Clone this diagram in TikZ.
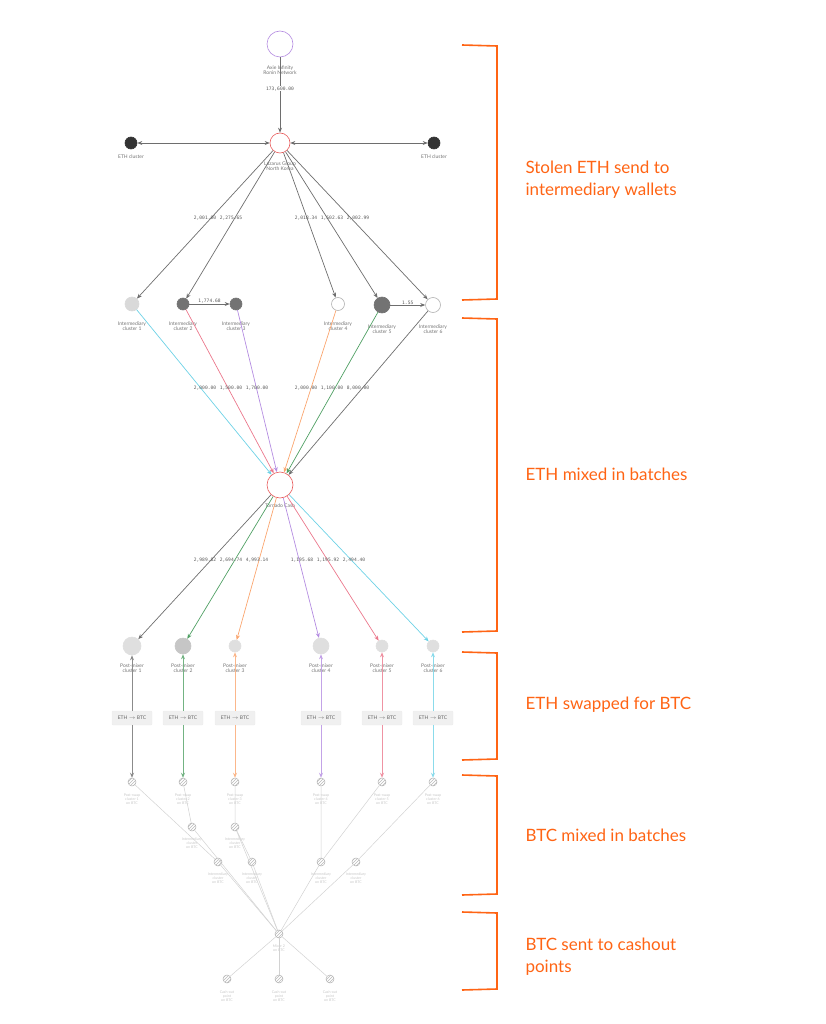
\documentclass[tikz,border=0pt]{standalone}
\usepackage{fontspec}
\setmainfont{Lato}
\newfontfamily\monofont{DejaVu Sans Mono}
\usetikzlibrary{arrows.meta,patterns}
\definecolor{hackred}{RGB}{232, 90, 90}
\definecolor{hackpurple}{RGB}{180, 140, 225}
\definecolor{hackcyan}{RGB}{110, 210, 230}
\definecolor{hackpink}{RGB}{235, 120, 140}
\definecolor{hackorange}{RGB}{250, 165, 110}
\definecolor{hackgreen}{RGB}{80, 160, 100}
\definecolor{hackdark}{RGB}{110, 110, 110}
\definecolor{bracketorange}{RGB}{255, 100, 20}
\tikzset{
  wallet/.style={circle, draw=gray!60, inner sep=0pt, line width=0.6pt},
  walletlabel/.style={font=\fontsize{5}{5.5}\selectfont, text=gray!90!black, align=center},
  btcnode/.style={circle, draw=gray!60, fill=gray!25, pattern color=gray!55, minimum size=8pt, inner sep=0pt, line width=0.5pt},
  btclabel/.style={font=\fontsize{3.6}{4}\selectfont, text=gray!45, align=center},
  amount/.style={font=\monofont\fontsize{4.6}{5}\selectfont, text=gray!70!black, inner sep=0.5pt},
  flow/.style={-{Stealth[length=5pt,width=4pt]}, line width=0.7pt},
  swapbox/.style={draw=gray!15, fill=gray!12, rounded corners=1pt, minimum width=40pt, minimum height=14pt, font=\fontsize{5}{5}\selectfont, text=gray!80!black},
  stage/.style={font=\fontsize{17}{22}\selectfont, text=bracketorange, align=left, anchor=west},
  bracket/.style={draw=bracketorange, line width=1.6pt},
}
\begin{document}
\begin{tikzpicture}[x=1pt,y=-1pt]
  \useasboundingbox (0,0) rectangle (826,1024);

  % Source and hackers
  \node[wallet, draw=hackpurple, minimum size=26pt] (axie) at (280,44) {};
  \node[walletlabel] (axielbl) at (280,70) {Axie Infinity\\Ronin Network};
  \node[wallet, draw=hackred, minimum size=20pt] (lazarus) at (280,143) {};
  \node[walletlabel] (lazaruslbl) at (280,166) {Lazarus Group\\North Korea};
  \node[wallet, fill=black!80, draw=black!80, minimum size=12pt] (ethl) at (131,143) {};
  \node[wallet, fill=black!80, draw=black!80, minimum size=12pt] (ethr) at (434,143) {};
  \node[walletlabel] (ethllbl) at (131,157) {ETH cluster};
  \node[walletlabel] (ethrlbl) at (434,157) {ETH cluster};
  \draw[flow, hackdark] (axie) -- node[amount, pos=0.42, fill=white] {173,600.00} (lazarus);
  \draw[{Stealth[length=5pt,width=4pt]}-{Stealth[length=5pt,width=4pt]}, line width=0.6pt, hackdark] (ethl) -- (lazarus);
  \draw[{Stealth[length=5pt,width=4pt]}-{Stealth[length=5pt,width=4pt]}, line width=0.6pt, hackdark] (ethr) -- (lazarus);

  % Intermediary wallets
  \node[wallet, fill=gray!30, draw=gray!30, minimum size=14pt] (im1) at (132,304) {};
  \node[wallet, fill=gray!90!black, draw=gray!90!black, minimum size=12pt] (im2) at (183,304) {};
  \node[wallet, fill=gray!90!black, draw=gray!90!black, minimum size=12pt] (im3) at (236,304) {};
  \node[wallet, fill=white, minimum size=13pt] (im4) at (338,304) {};
  \node[wallet, fill=gray!90!black, draw=gray!90!black, minimum size=16pt] (im5) at (382,305) {};
  \node[wallet, fill=white, minimum size=15pt] (im6) at (433,305) {};
  \foreach \i/\x/\y in {1/132/326, 2/183/326, 3/236/326, 4/338/326, 5/382/329, 6/433/329}
    \node[walletlabel] (im\i lbl) at (\x,\y) {Intermediary\\cluster \i};
  \draw[flow, hackdark] (lazarus) -- (im1);
  \draw[flow, hackdark] (lazarus) -- (im2);
  \draw[flow, hackdark] (lazarus) -- (im4);
  \draw[flow, hackdark] (lazarus) -- (im5);
  \draw[flow, hackdark] (lazarus) -- (im6);
  \node[amount] at (205,218) {2,001.00};
  \node[amount] at (231,218) {2,275.65};
  \node[amount] at (306,218) {2,018.34};
  \node[amount] at (332,218) {1,502.63};
  \node[amount] at (358,218) {2,002.99};
  \draw[flow, hackdark] (im2) -- node[amount, above] {1,774.68} (im3);
  \draw[flow, hackdark] (im5) -- node[amount, above] {1.55} (im6);

  % Mixer
  \node[wallet, draw=hackred, minimum size=26pt] (tornado) at (280,485) {};
  \node[walletlabel] (tornadolbl) at (280,506) {Tornado Cash};
  \draw[flow, hackcyan] (im1) -- (tornado);
  \draw[flow, hackpink] (im2) -- (tornado);
  \draw[flow, hackpurple] (im3) -- (tornado);
  \draw[flow, hackorange] (im4) -- (tornado);
  \draw[flow, hackgreen] (im5) -- (tornado);
  \draw[flow, hackdark] (im6) -- (tornado);
  \node[amount] at (205,388) {2,000.00};
  \node[amount] at (231,388) {1,500.00};
  \node[amount] at (257,388) {1,700.00};
  \node[amount] at (306,388) {2,000.00};
  \node[amount] at (332,388) {1,100.00};
  \node[amount] at (358,388) {8,000.00};

  % Post-mixer wallets
  \foreach \i/\x/\s/\f/\c in {1/132/18/25/hackdark, 2/183/16/45/hackgreen, 3/235/12/25/hackorange,
                               4/321/16/25/hackpurple, 5/382/12/25/hackpink, 6/433/12/25/hackcyan} {
    \node[wallet, fill=gray!\f, draw=gray!\f, minimum size=\s pt] (pm\i) at (\x,646) {};
    \node[walletlabel] (pm\i lbl) at (\x,668) {Post-mixer\\cluster \i};
    \node[swapbox] (swap\i) at (\x,718) {ETH $\rightarrow$ BTC};
    \node[btcnode, pattern=north east lines] (ps\i) at (\x,782) {};
    \node[btclabel] (ps\i lbl) at (\x,799) {Post-swap\\cluster \i\\on BTC};
    \draw[flow, \c] (tornado) -- (pm\i);
    \draw[flow, \c!80] (swap\i) -- (pm\i);
    \draw[flow, \c!80] (swap\i) -- (ps\i);
  }
  \node[amount] at (205,560) {2,989.82};
  \node[amount] at (231,560) {2,694.74};
  \node[amount] at (257,560) {4,993.14};
  \node[amount] at (302,560) {1,195.68};
  \node[amount] at (328,560) {1,195.92};
  \node[amount] at (354,560) {2,494.40};

  % BTC side
  \node[btcnode, pattern=north east lines] (ib1) at (192,827) {};
  \node[btcnode, pattern=north east lines] (ib2) at (235,827) {};
  \node[btcnode, pattern=north east lines] (ib3) at (218,862) {};
  \node[btcnode, pattern=north east lines] (ib4) at (252,862) {};
  \node[btcnode, pattern=north east lines] (ib5) at (321,862) {};
  \node[btcnode, pattern=north east lines] (ib6) at (356,862) {};
  \foreach \n/\x/\y in {ib1/192/843, ib2/235/843, ib3/218/878, ib4/252/878, ib5/321/878, ib6/356/878}
    \node[btclabel] (\n lbl) at (\x,\y) {Intermediary\\cluster\\on BTC};
  \node[btcnode, pattern=north east lines] (hub) at (279,934) {};
  \node[btclabel] (hublbl) at (279,948) {Mixer 2\\on BTC};
  \foreach \n/\x in {co1/227, co2/279, co3/330} {
    \node[btcnode, pattern=north east lines] (\n) at (\x,979) {};
    \node[btclabel] (\n lbl) at (\x,996) {Cash-out\\point\\on BTC};
  }
  \begin{scope}[gray!35, line width=0.5pt]
    \draw (ps1) -- (ib3) -- (hub);
    \draw (ps2) -- (ib1) -- (hub);
    \draw (ps3) -- (ib2) -- (ib4) -- (hub);
    \draw (ib2) -- (hub);
    \draw (ps4) -- (ib5) -- (hub);
    \draw (ps5) -- (ib5);
    \draw (ps6) -- (ib6) -- (hub);
    \draw (hub) -- (co1);
    \draw (hub) -- (co2);
    \draw (hub) -- (co3);
  \end{scope}

  % Stage brackets
  \foreach \t/\b in {45/300, 318/632, 652/760, 775/895, 912/990}
    \draw[bracket] (462,\t) -- (497,\t+1) -- (497,\b-1) -- (462,\b);
  \node[stage] (s1) at (522,180) {Stolen ETH send to\\intermediary wallets};
  \node[stage] (s2) at (522,474) {ETH mixed in batches};
  \node[stage] (s3) at (522,705) {ETH swapped for BTC};
  \node[stage] (s4) at (522,835) {BTC mixed in batches};
  \node[stage] (s5) at (522,957) {BTC sent to cashout\\points};
\end{tikzpicture}
\end{document}
